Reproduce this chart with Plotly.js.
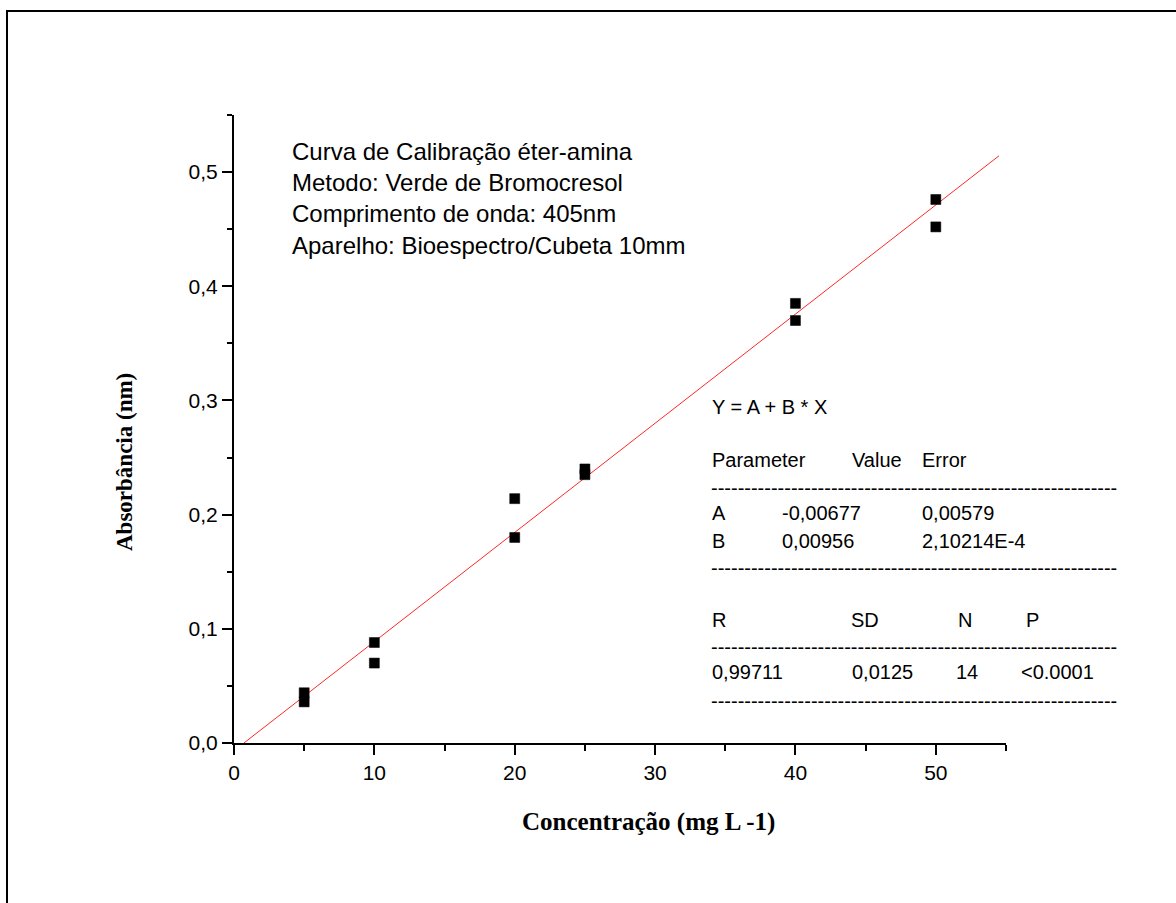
<!DOCTYPE html>
<html>
<head>
<meta charset="utf-8">
<script src="https://cdn.plot.ly/plotly-3.0.1.min.js"></script>
<style>html,body{margin:0;padding:0;background:#fff;}#chart{width:1176px;height:903px;}</style>
</head>
<body>
<div id="chart"></div>
<script>
// ---- data ----
const concentracao = [5, 5, 10, 10, 20, 20, 25, 25, 40, 40, 50, 50];
const absorbancia  = [0.044, 0.036, 0.088, 0.070, 0.214, 0.180, 0.240, 0.235, 0.385, 0.370, 0.476, 0.452];
const fitA = -0.00677;
const fitB = 0.00956;
const fitXEnd = 54.5;
const xTickVals = [0, 10, 20, 30, 40, 50];
const xTickText = ["0", "10", "20", "30", "40", "50"];
const yTickVals = [0, 0.1, 0.2, 0.3, 0.4, 0.5];
const yTickText = ["0,0", "0,1", "0,2", "0,3", "0,4", "0,5"];
const infoLines = ["Curva de Calibração éter-amina", "Metodo: Verde de Bromocresol",
                   "Comprimento de onda: 405nm", "Aparelho: Bioespectro/Cubeta 10mm"];
const statTable = [
  // [text, px x, px y]
  ["Y = A + B * X", 710, 407],
  ["Parameter", 710, 460], ["Value", 850, 460], ["Error", 920, 460],
  ["A", 710, 513], ["-0,00677", 780, 513], ["0,00579", 920, 513],
  ["B", 710, 541], ["0,00956", 780, 541], ["2,10214E-4", 920, 541],
  ["R", 710, 620], ["SD", 849, 620], ["N", 956, 620], ["P", 1024, 620],
  ["0,99711", 710, 672], ["0,0125", 850, 672], ["14", 954, 672], ["<0.0001", 1019, 672]
];
const dashRowsPx = [488, 568, 647, 701];

// ---- layout geometry ----
const L = 234, R = 1006, T = 115, B = 743;
const W = 1176, H = 903;
const px2x = p => (p - L) / (R - L);
const py2y = p => (B - p) / (B - T);

const fitX = [-fitA / fitB, fitXEnd];
const fitY = fitX.map(x => fitA + fitB * x);

const font = "Liberation Sans, Arial, sans-serif";
const serif = "Liberation Serif, Times New Roman, serif";

const annotations = [];
annotations.push({
  xref: "paper", yref: "paper", x: px2x(290), y: py2y(198), xanchor: "left", yanchor: "middle",
  text: infoLines.join("<br>"), showarrow: false, align: "left",
  font: {family: font, size: 24, color: "#000"}
});
statTable.forEach(r => annotations.push({
  xref: "paper", yref: "paper", x: px2x(r[1]), y: py2y(r[2]), xanchor: "left", yanchor: "middle",
  text: r[0], showarrow: false, font: {family: font, size: 20, color: "#000"}
}));
const dashText = "-".repeat(61);
dashRowsPx.forEach(p => annotations.push({
  xref: "paper", yref: "paper", x: px2x(709), y: py2y(p), xanchor: "left", yanchor: "middle",
  text: dashText, showarrow: false, font: {family: font, size: 20, color: "#000"}
}));
annotations.push({
  xref: "paper", yref: "paper", x: px2x(648), y: py2y(822), xanchor: "center", yanchor: "middle",
  text: "<b>Concentração (mg L -1)</b>", showarrow: false,
  font: {family: serif, size: 25, color: "#000"}
});
annotations.push({
  xref: "paper", yref: "paper", x: px2x(124), y: py2y(462), xanchor: "center", yanchor: "middle",
  text: "<b>Absorbância (nm)</b>", showarrow: false, textangle: -90,
  font: {family: serif, size: 23, color: "#000"}
});

const shapes = [
  {type: "line", xref: "paper", yref: "paper", x0: px2x(6), x1: px2x(W + 5), y0: py2y(11), y1: py2y(11),
   line: {color: "#000", width: 2}},
  {type: "line", xref: "paper", yref: "paper", x0: px2x(7), x1: px2x(7), y0: py2y(10), y1: py2y(H + 5),
   line: {color: "#000", width: 2}}
];

const traces = [
  {x: fitX, y: fitY, mode: "lines", line: {color: "rgb(255,40,40)", width: 1}, hoverinfo: "skip", cliponaxis: false},
  {x: concentracao, y: absorbancia, mode: "markers",
   marker: {symbol: "square", size: 10, color: "#000", line: {color: "#000", width: 0.5}}, cliponaxis: false}
];

const axisCommon = {
  showgrid: false, zeroline: false, showline: true, linecolor: "#000", linewidth: 2,
  ticks: "outside", tickcolor: "#000", tickwidth: 2, ticklen: 10,
  tickfont: {family: font, size: 21, color: "#000"}, fixedrange: true
};

const layout = {
  width: W, height: H, showlegend: false,
  paper_bgcolor: "#fff", plot_bgcolor: "rgba(0,0,0,0)",
  margin: {l: L, r: W - R, t: T, b: H - B, pad: 0},
  xaxis: Object.assign({}, axisCommon, {
    range: [0, 55], tickmode: "array", tickvals: xTickVals, ticktext: xTickText,
    minor: {dtick: 5, tick0: 0, ticks: "outside", ticklen: 6, tickwidth: 2, tickcolor: "#000"}
  }),
  yaxis: Object.assign({}, axisCommon, {
    range: [0, 0.55], tickmode: "array", tickvals: yTickVals, ticktext: yTickText,
    minor: {dtick: 0.05, tick0: 0, ticks: "outside", ticklen: 5, tickwidth: 2, tickcolor: "#000"}
  }),
  annotations: annotations, shapes: shapes
};

Plotly.newPlot("chart", traces, layout, {displayModeBar: false, staticPlot: true});
</script>
</body>
</html>
